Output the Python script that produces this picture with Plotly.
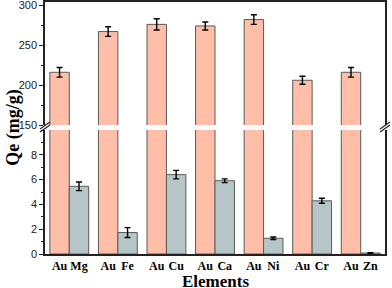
import plotly.graph_objects as go

elements = ["Mg", "Fe", "Cu", "Ca", "Ni", "Cr", "Zn"]
au_qe = [216, 267, 276, 274, 282, 206, 216]
au_err = [6, 6, 7, 5, 6, 5, 6]
metal_qe = [5.46, 1.73, 6.4, 5.91, 1.27, 4.29, 0.08]
metal_err = [0.35, 0.4, 0.34, 0.15, 0.1, 0.2, 0.03]

lower_ticks = [0, 2, 4, 6, 8]
upper_ticks = [150, 200, 250, 300]

AU_COLOR = "#FFBEA8"
M_COLOR = "#B6C6C8"
EDGE = "#5a5a5a"

grp = list(range(len(elements)))
au_x = [g - 0.2 for g in grp]
m_x = [g + 0.2 for g in grp]

serif = "Times New Roman, Liberation Serif, serif"
sans = "Arial, Liberation Sans, sans-serif"

err_style = dict(type="data", visible=True, color="black", thickness=1.4, width=3)

fig = go.Figure()
# lower panel
fig.add_trace(go.Bar(x=au_x, y=au_qe, width=0.4, marker=dict(color=AU_COLOR, line=dict(color=EDGE, width=1)),
                     xaxis="x", yaxis="y", showlegend=False))
fig.add_trace(go.Bar(x=m_x, y=metal_qe, width=0.4, marker=dict(color=M_COLOR, line=dict(color=EDGE, width=1)),
                     error_y=dict(array=metal_err, **err_style), xaxis="x", yaxis="y", showlegend=False))
# upper panel
fig.add_trace(go.Bar(x=au_x, y=au_qe, width=0.4, marker=dict(color=AU_COLOR, line=dict(color=EDGE, width=1)),
                     error_y=dict(array=au_err, **err_style), xaxis="x2", yaxis="y2", showlegend=False))

tickvals = []
ticktext = []
for g, e in zip(grp, elements):
    tickvals += [g - 0.2, g + 0.2]
    ticktext += ["<b>Au</b>", "<b>%s</b>" % e]

fig.update_layout(
    width=392, height=288,
    margin=dict(l=45, r=7, t=2, b=34),
    paper_bgcolor="white", plot_bgcolor="white",
    barmode="overlay",
    xaxis=dict(domain=[0, 1], range=[-0.5, 6.5], anchor="y", tickvals=tickvals, ticktext=ticktext,
               tickangle=0, ticks="", showline=True, linecolor="#222", linewidth=1.5, showgrid=False,
               zeroline=False, tickfont=dict(family=serif, size=12, color="black"), automargin=False),
    xaxis2=dict(domain=[0, 1], range=[-0.5, 6.5], anchor="y2", matches="x", side="top", showticklabels=False,
                ticks="", showline=True, linecolor="#222", linewidth=1.5, showgrid=False, zeroline=False,
                automargin=False),
    yaxis=dict(domain=[0, 124 / 252], range=[0, 10], tickvals=lower_ticks, ticks="outside", ticklen=4,
               tickwidth=1, tickcolor="#222", showline=True, linecolor="#222", linewidth=1.5, mirror=True,
               showgrid=False, zeroline=False, tickfont=dict(family=sans, size=11, color="#222"),
               automargin=False,
               minor=dict(dtick=1, ticks="outside", ticklen=2, tickcolor="#222", showgrid=False)),
    yaxis2=dict(domain=[129 / 252, 1], range=[150, 304], tickvals=upper_ticks, ticks="outside", ticklen=4,
                tickwidth=1, tickcolor="#222", showline=True, linecolor="#222", linewidth=1.5, mirror=True,
                showgrid=False, zeroline=False, tickfont=dict(family=sans, size=11, color="#222"),
                ticklabeloverflow="allow", automargin=False,
                minor=dict(dtick=25, ticks="outside", ticklen=2, tickcolor="#222", showgrid=False)),
)

fig.add_annotation(text="<b>Qe (mg/g)</b>", xref="paper", yref="paper", x=-0.095, y=0.5,
                   xanchor="center", yanchor="middle", textangle=-90, showarrow=False,
                   font=dict(family=serif, size=18, color="black"))
fig.add_annotation(text="<b>Elements</b>", xref="paper", yref="paper", x=0.5, y=-0.066,
                   xanchor="center", yanchor="top", showarrow=False, borderpad=0,
                   font=dict(family=serif, size=17, color="black"))

# axis-break marks
yb = 0.504
dx = 5 / 340
dy = 3.5 / 252
for xc in (0, 1):
    for off in (-1.6 / 252, 1.6 / 252):
        fig.add_shape(type="line", xref="paper", yref="paper",
                      x0=xc - dx, y0=yb - dy + off, x1=xc + dx, y1=yb + dy + off,
                      line=dict(color="#222", width=1.2))

fig.write_html("out.html", config={"displayModeBar": False},
               post_script="document.body.style.margin='0px';document.body.style.overflow='hidden';")
